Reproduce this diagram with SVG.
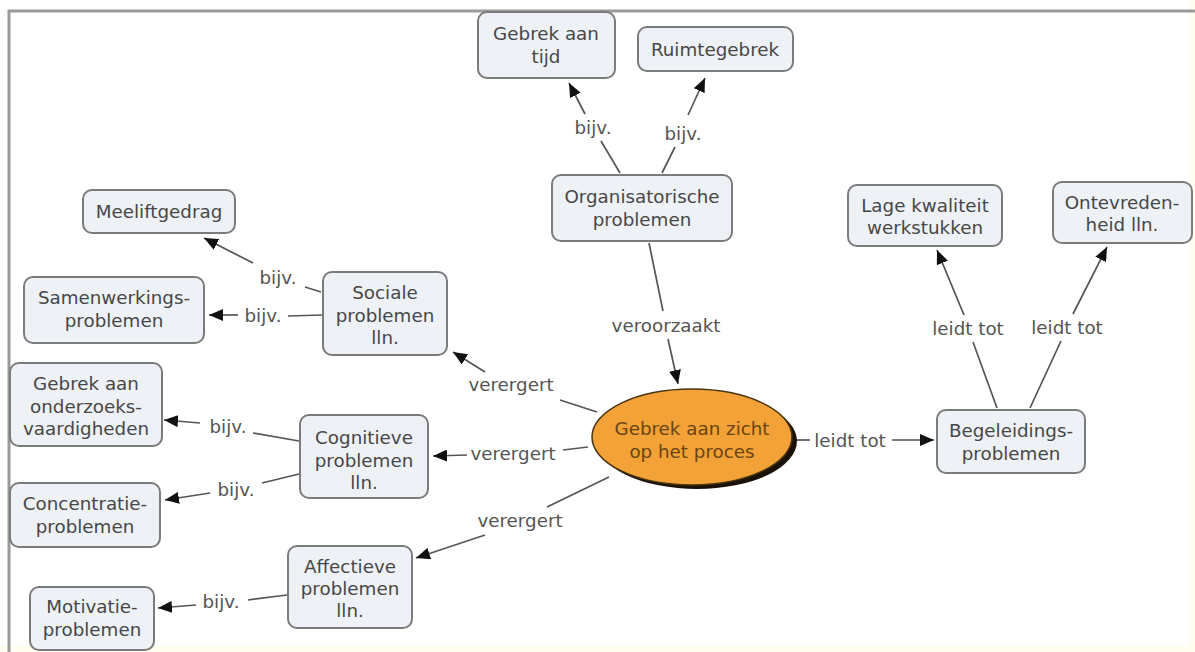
<svg xmlns="http://www.w3.org/2000/svg" width="1195" height="652" viewBox="0 0 1195 652">
  <defs>
    <marker id="arrow" viewBox="0 0 14 12" refX="14" refY="6" markerWidth="14" markerHeight="12" markerUnits="userSpaceOnUse" orient="auto">
      <path d="M0,0 L14,6 L0,12 Z" fill="#111"/>
    </marker>
    <style>
      .box { fill: #eef1f6; stroke: #7b7b7b; stroke-width: 2; }
      .txt { font-family: "DejaVu Sans", Verdana, sans-serif; font-size: 18.3px; fill: #474747; text-anchor: middle; dominant-baseline: central; }
      .lbl { font-family: "DejaVu Sans", Verdana, sans-serif; font-size: 18.3px; fill: #555; text-anchor: middle; dominant-baseline: central; }
      .con { stroke: #555; stroke-width: 1.7; fill: none; }
      .arr { stroke: #555; stroke-width: 1.7; fill: none; marker-end: url(#arrow); }
      .frame { stroke: #9a9a9a; stroke-width: 3; fill: none; }
    </style>
  </defs>

  <rect width="1195" height="652" fill="#ffffff"/>
  <!-- pale page edges -->
  <rect x="0" y="646" width="1195" height="6" fill="#fffdf0"/>
  <rect x="1189" y="0" width="6" height="652" fill="#fffdf0"/>
  <!-- page frame -->
  <polyline class="frame" points="9,652 9,11 1195,11"/>

  <!-- connectors with their labels -->
  <g id="connectors">
    <!-- Organisatorische -> Gebrek aan tijd -->
    <line class="con" x1="620" y1="173" x2="601" y2="141"/>
    <line class="arr" x1="585" y1="114" x2="569" y2="83"/>
    <text class="lbl" x="593" y="127">bijv.</text>
    <!-- Organisatorische -> Ruimtegebrek -->
    <line class="con" x1="662" y1="173" x2="675" y2="147"/>
    <line class="arr" x1="688" y1="115" x2="705" y2="78"/>
    <text class="lbl" x="683" y="133">bijv.</text>
    <!-- Organisatorische -> Gebrek aan zicht -->
    <line class="con" x1="649" y1="243" x2="663" y2="311"/>
    <line class="arr" x1="668" y1="339" x2="678" y2="384"/>
    <text class="lbl" x="666" y="325">veroorzaakt</text>
    <!-- Gebrek aan zicht -> Sociale -->
    <line class="con" x1="597" y1="412" x2="560" y2="400"/>
    <line class="arr" x1="485" y1="372" x2="453" y2="352"/>
    <text class="lbl" x="511" y="384">verergert</text>
    <!-- Gebrek aan zicht -> Cognitieve -->
    <line class="con" x1="588" y1="447" x2="563" y2="450"/>
    <line class="arr" x1="467" y1="455" x2="433" y2="456"/>
    <text class="lbl" x="513" y="453">verergert</text>
    <!-- Gebrek aan zicht -> Affectieve -->
    <line class="con" x1="609" y1="477" x2="547" y2="507"/>
    <line class="arr" x1="485" y1="535" x2="416" y2="558"/>
    <text class="lbl" x="520" y="520">verergert</text>
    <!-- Gebrek aan zicht -> Begeleidings -->
    <line class="con" x1="793" y1="440" x2="810" y2="440"/>
    <line class="arr" x1="892" y1="440" x2="934" y2="440"/>
    <text class="lbl" x="850" y="440">leidt tot</text>
    <!-- Begeleidings -> Lage kwaliteit -->
    <line class="con" x1="997" y1="408" x2="973" y2="342"/>
    <line class="arr" x1="964" y1="315" x2="937" y2="250"/>
    <text class="lbl" x="968" y="328">leidt tot</text>
    <!-- Begeleidings -> Ontevredenheid -->
    <line class="con" x1="1030" y1="408" x2="1061" y2="341"/>
    <line class="arr" x1="1073" y1="314" x2="1107" y2="247"/>
    <text class="lbl" x="1067" y="327">leidt tot</text>
    <!-- Sociale -> Meeliftgedrag -->
    <line class="con" x1="321" y1="292" x2="305" y2="287"/>
    <line class="arr" x1="253" y1="263" x2="204" y2="238"/>
    <text class="lbl" x="278" y="277">bijv.</text>
    <!-- Sociale -> Samenwerkings -->
    <line class="con" x1="322" y1="315" x2="288" y2="316"/>
    <line class="arr" x1="238" y1="315" x2="209" y2="315"/>
    <text class="lbl" x="263" y="315">bijv.</text>
    <!-- Cognitieve -> onderzoeksvaardigheden -->
    <line class="con" x1="299" y1="441" x2="253" y2="433"/>
    <line class="arr" x1="200" y1="423" x2="164" y2="420"/>
    <text class="lbl" x="228" y="426">bijv.</text>
    <!-- Cognitieve -> Concentratie -->
    <line class="con" x1="299" y1="474" x2="262" y2="483"/>
    <line class="arr" x1="210" y1="493" x2="165" y2="500"/>
    <text class="lbl" x="236" y="489">bijv.</text>
    <!-- Affectieve -> Motivatie -->
    <line class="con" x1="287" y1="595" x2="248" y2="600"/>
    <line class="arr" x1="196" y1="605" x2="158" y2="608"/>
    <text class="lbl" x="221" y="601">bijv.</text>
  </g>

  <!-- central concept -->
  <g id="gebrek-zicht">
    <ellipse cx="697" cy="441" rx="100" ry="48" fill="#1a1208"/>
    <ellipse cx="692" cy="437" rx="100" ry="48" fill="#f2a236" stroke="#4a3310" stroke-width="1.5"/>
    <text class="txt" x="692" y="428" style="fill:#6a4413">Gebrek aan zicht</text>
    <text class="txt" x="692" y="451" style="fill:#6a4413">op het proces</text>
  </g>

  <g id="gebrek-tijd">
    <rect class="box" x="478" y="12" width="137" height="66" rx="9"/>
    <text class="txt" x="546" y="33">Gebrek aan</text>
    <text class="txt" x="546" y="56">tijd</text>
  </g>
  <g id="ruimtegebrek">
    <rect class="box" x="638" y="27" width="155" height="44" rx="9"/>
    <text class="txt" x="715" y="49">Ruimtegebrek</text>
  </g>
  <g id="organisatorisch">
    <rect class="box" x="552" y="175" width="180" height="66" rx="9"/>
    <text class="txt" x="642" y="196">Organisatorische</text>
    <text class="txt" x="642" y="219">problemen</text>
  </g>
  <g id="meeliftgedrag">
    <rect class="box" x="83" y="190" width="152" height="43" rx="9"/>
    <text class="txt" x="159" y="211">Meeliftgedrag</text>
  </g>
  <g id="samenwerking">
    <rect class="box" x="24" y="277" width="180" height="66" rx="9"/>
    <text class="txt" x="114" y="297">Samenwerkings-</text>
    <text class="txt" x="114" y="320">problemen</text>
  </g>
  <g id="sociale">
    <rect class="box" x="323" y="272" width="124" height="83" rx="9"/>
    <text class="txt" x="385" y="292">Sociale</text>
    <text class="txt" x="385" y="315">problemen</text>
    <text class="txt" x="385" y="337">lln.</text>
  </g>
  <g id="onderzoeksvaardigheden">
    <rect class="box" x="10" y="363" width="152" height="83" rx="9"/>
    <text class="txt" x="86" y="383">Gebrek aan</text>
    <text class="txt" x="86" y="406">onderzoeks-</text>
    <text class="txt" x="86" y="428">vaardigheden</text>
  </g>
  <g id="cognitieve">
    <rect class="box" x="300" y="415" width="128" height="83" rx="9"/>
    <text class="txt" x="364" y="437">Cognitieve</text>
    <text class="txt" x="364" y="460">problemen</text>
    <text class="txt" x="364" y="482">lln.</text>
  </g>
  <g id="concentratie">
    <rect class="box" x="10" y="483" width="150" height="64" rx="9"/>
    <text class="txt" x="85" y="503">Concentratie-</text>
    <text class="txt" x="85" y="526">problemen</text>
  </g>
  <g id="affectieve">
    <rect class="box" x="288" y="546" width="124" height="82" rx="9"/>
    <text class="txt" x="350" y="566">Affectieve</text>
    <text class="txt" x="350" y="588">problemen</text>
    <text class="txt" x="350" y="610">lln.</text>
  </g>
  <g id="motivatie">
    <rect class="box" x="30" y="587" width="124" height="63" rx="9"/>
    <text class="txt" x="92" y="606">Motivatie-</text>
    <text class="txt" x="92" y="629">problemen</text>
  </g>
  <g id="lage-kwaliteit">
    <rect class="box" x="848" y="185" width="154" height="61" rx="9"/>
    <text class="txt" x="925" y="205">Lage kwaliteit</text>
    <text class="txt" x="925" y="227">werkstukken</text>
  </g>
  <g id="ontevredenheid">
    <rect class="box" x="1053" y="182" width="139" height="61" rx="9"/>
    <text class="txt" x="1122" y="202">Ontevreden-</text>
    <text class="txt" x="1122" y="224">heid lln.</text>
  </g>
  <g id="begeleiding">
    <rect class="box" x="937" y="410" width="148" height="63" rx="9"/>
    <text class="txt" x="1011" y="430">Begeleidings-</text>
    <text class="txt" x="1011" y="453">problemen</text>
  </g>
</svg>
